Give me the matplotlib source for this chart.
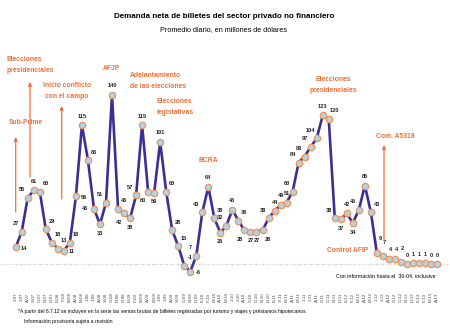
import matplotlib
matplotlib.use("Agg")
import matplotlib.pyplot as plt

# demanda neta de billetes, promedio diario (millones de USD), jun-07 .. abr-13
values = [14, 27, 55, 61, 60, 29, 18, 13, 11, 18,
          56, 115, 86, 46, 33, 51, 140, 46, 42, 38,
          57, 115, 60, 59, 101, 60, 28, 15, -1, -6,
          7, 43, 64, 38, 26, 32, 45, 36, 28, 27,
          27, 28, 38, 44, 49, 51, 60, 84, 89, 97,
          104, 123, 120, 38, 37, 42, 34, 45, 65, 43,
          9, 7, 4, 4, 2, 0, 1, 1, 1, 0, 0]
start_month = 6
start_year = 2007
month_letters = ['E', 'F', 'M', 'A', 'M', 'J', 'J', 'A', 'S', 'O', 'N', 'D']

# where each value label sits relative to its point
label_pos = ['r', 'al', 'al', 'a', 'ar', 'ar', 'ar', 'ar', 'r', 'ar',
             'r', 'a', 'ar', 'l', 'b', 'al', 'a', 'ar', 'bl', 'b',
             'al', 'a', 'bl', 'b', 'a', 'ar', 'ar', 'ar', 'ar', 'r',
             'al', 'al', 'a', 'ar', 'b', 'al', 'a', 'ar', 'bl', 'b',
             'b', 'br', 'al', 'a', 'a', 'a', 'al', 'al', 'al', 'al',
             'al', 'a', 'ar', 'al', 'b', 'a', 'b', 'al', 'a', 'ar',
             'h3', 'h2', 'h1', 'h1', 'h2', 'a', 'a', 'a', 'a', 'a', 'a']
offsets = {'a': (0, 9), 'b': (0, -9), 'l': (-9, 0), 'r': (8, -1),
           'al': (-6, 8), 'ar': (6, 8), 'bl': (-5, -9), 'br': (5, -9),
           'h3': (3, 15), 'h2': (1, 13), 'h1': (1, 10)}

orange = '#F26E30'
purple = '#3B2F93'

plt.rcParams['font.family'] = ['Liberation Sans', 'DejaVu Sans']

fig = plt.figure(figsize=(4.5, 3.32), dpi=100)
ax = fig.add_axes([0, 0, 1, 1])
ax.set_axis_off()
x0, dx, y0, dy = 15.7, 6.02, 264.3, 1.211
ax.set_xlim(-x0 / dx, (450 - x0) / dx)
ax.set_ylim((y0 - 332) / dy, y0 / dy)


def px(xp, yp):
    return (xp - x0) / dx, (y0 - yp) / dy


n = len(values)
xs = list(range(n))

# zero line
ax.axhline(0, color='#c8c8c8', lw=0.6, ls=(0, (1.5, 2)), zorder=1)
ax.plot(xs, [0] * n, ls='none', marker='|', ms=2, mew=0.5, color='#c8c8c8', zorder=1)

ax.plot(xs, values, color=purple, lw=1.9, zorder=2,
        marker='o', ms=4.6, mfc='#A9D6EA', mec='#F39254', mew=0.9)

for i, v in enumerate(values):
    ox, oy = offsets[label_pos[i]]
    ax.annotate(str(v), (i, v), xytext=(ox, oy), textcoords='offset pixels',
                ha='center', va='center', fontsize=4.1, fontweight='bold', color='#222222')

# month labels
for i in range(n):
    m = (start_month - 1 + i) % 12
    y = start_year + (start_month - 1 + i) // 12
    tx, ty = px(0, 297)
    ax.text(i, ty, f"{month_letters[m]}-{y % 100:02d}", rotation=90, ha='center', va='center',
            fontsize=3.2, color='#444444')

# events
arrow = dict(arrowstyle='-|>', color=orange, lw=0.9, mutation_scale=5, shrinkA=0, shrinkB=0)
for xa, yb, yt in [(15.7, 212, 137), (30, 177, 82), (61.7, 199, 106), (384, 240, 145)]:
    ax.annotate('', xy=px(xa, yt), xytext=px(xa, yb), arrowprops=arrow)

tkw = dict(color=orange, fontsize=4.9, fontweight='bold', va='center', linespacing=1.7)
ax.text(*px(7, 65), 'Elecciones\npresidenciales', ha='left', **tkw)
ax.text(*px(67, 91), 'Inicio conflicto\ncon el campo', ha='center', **tkw)
ax.text(*px(26, 122), 'Sub-Prime', ha='center', **tkw)
ax.text(*px(112, 69), 'AFJP', ha='center', **tkw)
ax.text(*px(130, 81), 'Adelantamiento\nde las elecciones', ha='left', **tkw)
ax.text(*px(157, 107), 'Elecciones\nlegislativas', ha='left', **tkw)
ax.text(*px(208, 161), 'BCRA', ha='center', **tkw)
ax.text(*px(333, 85), 'Elecciones\npresidenciales', ha='center', **tkw)
ax.text(*px(395, 136), 'Com. A5318', ha='center', **tkw)
ax.text(*px(348, 251), 'Control AFIP', ha='center', **tkw)

fig.text(224 / 450, 1 - 17 / 332, 'Demanda neta de billetes del sector privado no financiero',
         ha='center', va='center', fontsize=5.8, fontweight='bold')
fig.text(224 / 450, 1 - 30 / 332, 'Promedio diario, en millones de dólares',
         ha='center', va='center', fontsize=5.2)
fig.text(435 / 450, 1 - 276 / 332, 'Con información hasta el  30-04, inclusive',
         ha='right', va='center', fontsize=3.8)
fig.text(18 / 450, 1 - 311 / 332,
         '*A partir del 6.7.12 se incluyen en la serie las ventas brutas de billetes '
         'registradas por turismo y viajes y préstamos hipotecarios',
         ha='left', va='center', fontsize=3.6)
fig.text(24 / 450, 1 - 321 / 332, 'Información provisoria sujeta a revisión',
         ha='left', va='center', fontsize=3.6)

fig.savefig('out.png', dpi=100)
